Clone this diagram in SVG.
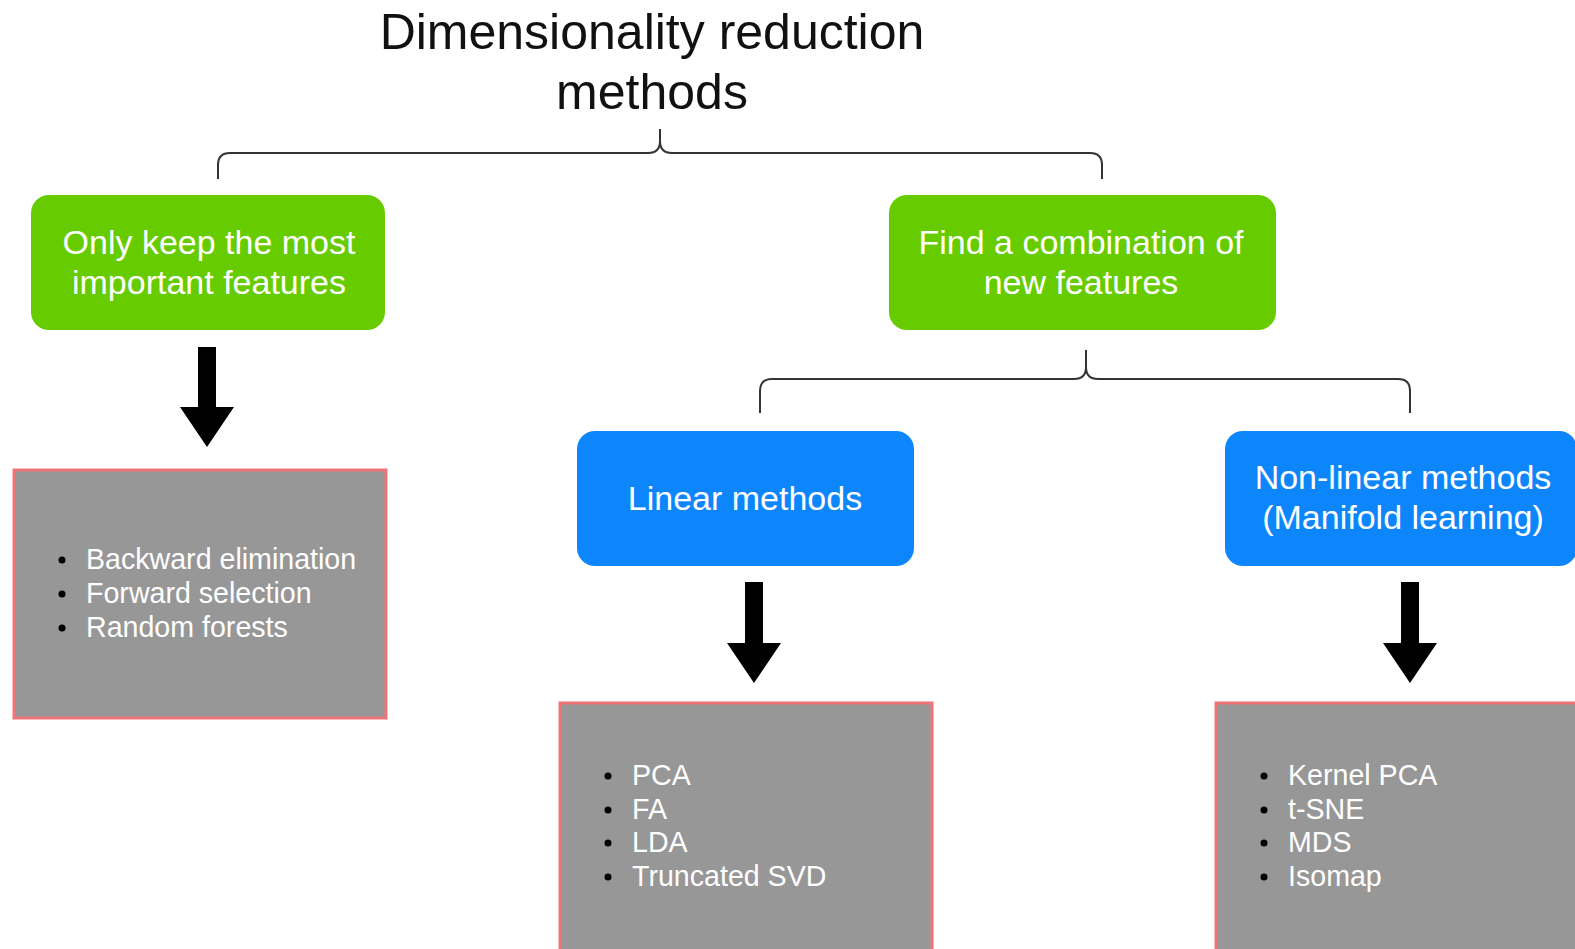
<svg xmlns="http://www.w3.org/2000/svg" width="1575" height="949" viewBox="0 0 1575 949">
<style>
text{font-family:"Liberation Sans",Arial,sans-serif}
.title{font-size:50px;fill:#111;text-anchor:middle}
.lbl{font-size:34px;fill:#fff;text-anchor:middle}
.item{font-size:28.6px;fill:#fff}
.bul{fill:#000}
.green{fill:#66cc00}
.blue{fill:#0d86fb}
.gray{fill:#979797;stroke:#f07477;stroke-width:3}
.brace{fill:none;stroke:#333;stroke-width:2}
.arrow{fill:#000}
</style>
<rect width="1575" height="949" fill="#fff"/>
<g id="title">
<text class="title" x="652" y="49">Dimensionality reduction</text>
<text class="title" x="652" y="109">methods</text>
</g>
<g id="connectors">
<path class="brace" d="M218,179 V165 Q218,153 230,153 H648 Q660,153 660,141 V129 M660,141 Q660,153 672,153 H1090 Q1102,153 1102,165 V179"/>
<path class="brace" d="M760,413 V391 Q760,379 772,379 H1074 Q1086,379 1086,367 V350 M1086,367 Q1086,379 1098,379 H1398 Q1410,379 1410,391 V413"/>
<polygon class="arrow" points="198,347 216,347 216,407 234,407 207,447 180,407 198,407"/>
<polygon class="arrow" points="745,582 763,582 763,643 781,643 754,683 727,643 745,643"/>
<polygon class="arrow" points="1401,582 1419,582 1419,643 1437,643 1410,683 1383,643 1401,643"/>
</g>
<g id="node-keep">
<rect class="green" x="31" y="195" width="354" height="135" rx="18"/>
<text class="lbl" x="209" y="254">Only keep the most</text>
<text class="lbl" x="209" y="294">important features</text>
</g>
<g id="node-combination">
<rect class="green" x="889" y="195" width="387" height="135" rx="18"/>
<text class="lbl" x="1081" y="254">Find a combination of</text>
<text class="lbl" x="1081" y="294">new features</text>
</g>
<g id="node-linear">
<rect class="blue" x="577" y="431" width="337" height="135" rx="18"/>
<text class="lbl" x="745" y="510">Linear methods</text>
</g>
<g id="node-nonlinear">
<rect class="blue" x="1225" y="431" width="352" height="135" rx="18"/>
<text class="lbl" x="1403" y="489">Non-linear methods</text>
<text class="lbl" x="1403" y="529">(Manifold learning)</text>
</g>
<g id="node-feature-list">
<rect class="gray" x="14" y="470" width="372" height="248"/>
<circle class="bul" cx="62" cy="560" r="3.5"/>
<circle class="bul" cx="62" cy="594" r="3.5"/>
<circle class="bul" cx="62" cy="628" r="3.5"/>
<text class="item" x="86" y="569">Backward elimination</text>
<text class="item" x="86" y="603">Forward selection</text>
<text class="item" x="86" y="637">Random forests</text>
</g>
<g id="node-linear-list">
<rect class="gray" x="560" y="703" width="372" height="260"/>
<circle class="bul" cx="608" cy="776" r="3.5"/>
<circle class="bul" cx="608" cy="810" r="3.5"/>
<circle class="bul" cx="608" cy="843" r="3.5"/>
<circle class="bul" cx="608" cy="877" r="3.5"/>
<text class="item" x="632" y="785">PCA</text>
<text class="item" x="632" y="819">FA</text>
<text class="item" x="632" y="852">LDA</text>
<text class="item" x="632" y="886">Truncated SVD</text>
</g>
<g id="node-nonlinear-list">
<rect class="gray" x="1216" y="703" width="372" height="260"/>
<circle class="bul" cx="1264" cy="776" r="3.5"/>
<circle class="bul" cx="1264" cy="810" r="3.5"/>
<circle class="bul" cx="1264" cy="843" r="3.5"/>
<circle class="bul" cx="1264" cy="877" r="3.5"/>
<text class="item" x="1288" y="785">Kernel PCA</text>
<text class="item" x="1288" y="819">t-SNE</text>
<text class="item" x="1288" y="852">MDS</text>
<text class="item" x="1288" y="886">Isomap</text>
</g>
</svg>
